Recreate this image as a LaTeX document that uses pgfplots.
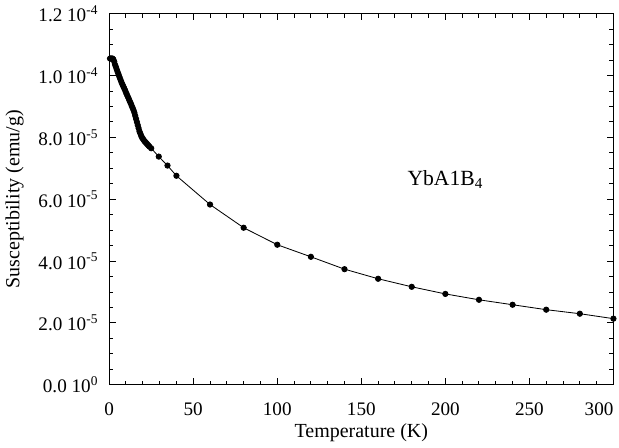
\documentclass[border=0pt]{standalone}
\usepackage{fontspec}
\setmainfont{Liberation Serif}
\usepackage{pgfplots}
\pgfplotsset{compat=1.18}

\begin{document}
\begin{tikzpicture}
\begin{axis}[
  scale only axis,
  width=303pt, height=223pt,
  xmin=0, xmax=300,
  ymin=0, ymax=12e-5,
  xtick={0,50,100,150,200,250,300},
  xticklabels={0,50,100,150,200,250,\llap{300}},
  minor x tick num=4,
  ytick={0,2e-5,4e-5,6e-5,8e-5,10e-5,12e-5},
  yticklabels={0.0 10\textsuperscript{0},2.0 10\textsuperscript{-5},4.0 10\textsuperscript{-5},
    6.0 10\textsuperscript{-5},8.0 10\textsuperscript{-5},1.0 10\textsuperscript{-4},1.2 10\textsuperscript{-4}},
  minor y tick num=3,
  scaled y ticks=false,
  tick align=inside,
  major tick length=4pt,
  minor tick length=2.4pt,
  tick style={black, line width=0.6pt},
  axis line style={line width=0.6pt},
  ticklabel style={font=\fontsize{11.5}{13}\selectfont},
  xticklabel style={yshift=-7pt},
  yticklabel style={xshift=-3pt},
  label style={font=\fontsize{12}{14}\selectfont},
  xlabel={Temperature (K)},
  ylabel={Susceptibility (emu/g)},
  xlabel style={yshift=2pt},
  ylabel style={yshift=2pt},
  clip=false,
]
\addplot[black, line width=0.5pt, mark=*, mark size=1.6pt] coordinates {
  (0.5,10.55e-5) (1.0,10.55e-5) (1.5,10.55e-5) (2.0,10.55e-5) (2.5,10.52e-5)
  (3.0,10.45e-5) (3.5,10.35e-5) (4.0,10.28e-5) (4.5,10.20e-5) (5.0,10.12e-5)
  (5.5,10.05e-5) (6.0,9.97e-5) (6.5,9.90e-5) (7.0,9.83e-5) (7.5,9.76e-5)
  (8.0,9.70e-5) (8.5,9.64e-5) (9.0,9.58e-5) (9.5,9.52e-5) (10.0,9.45e-5)
  (10.5,9.39e-5) (11.0,9.33e-5) (11.5,9.27e-5) (12.0,9.20e-5) (12.5,9.14e-5)
  (13.0,9.08e-5) (13.5,9.01e-5) (14.0,8.95e-5) (14.5,8.88e-5) (15.0,8.80e-5)
  (15.5,8.70e-5) (16.0,8.60e-5) (16.5,8.50e-5) (17.0,8.40e-5) (17.5,8.30e-5)
  (18.0,8.20e-5) (18.5,8.13e-5) (19.0,8.06e-5) (19.5,8.00e-5) (20.0,7.96e-5)
  (20.5,7.92e-5) (21.0,7.88e-5) (21.5,7.85e-5) (22.0,7.82e-5) (22.5,7.79e-5)
  (23.0,7.76e-5) (23.5,7.73e-5) (24.0,7.70e-5) (25.0,7.65e-5)
  (29.5,7.38e-5) (34.7,7.09e-5) (40,6.76e-5) (60,5.83e-5) (80,5.08e-5)
  (100,4.53e-5) (120,4.14e-5) (140,3.74e-5) (160,3.43e-5) (180,3.17e-5)
  (200,2.94e-5) (220,2.75e-5) (240,2.59e-5) (260,2.43e-5) (280,2.30e-5)
  (300,2.14e-5)
};
\node[font=\fontsize{13}{15}\selectfont] at (axis cs:200,6.65e-5) {YbA1B\textsubscript{4}};
\end{axis}
\end{tikzpicture}
\end{document}
